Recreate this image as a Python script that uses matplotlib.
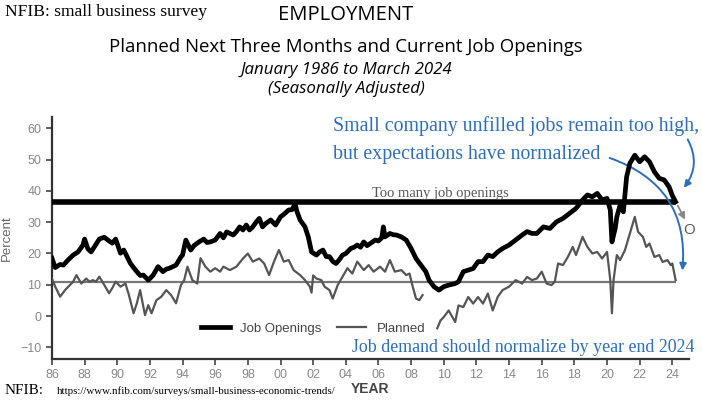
import numpy as np
import matplotlib
matplotlib.use("Agg")
from matplotlib import pyplot as plt

plt.rcParams['font.family'] = ['Liberation Sans', 'DejaVu Sans']

# Job openings (percent of firms with unfilled openings)
jo_year = [1986.0, 1986.2, 1986.5, 1986.7, 1987.0, 1987.3, 1987.6, 1987.9, 1988.0, 1988.2,
           1988.4, 1988.7, 1988.9, 1989.2, 1989.5, 1989.7, 1989.9, 1990.2, 1990.4, 1990.6,
           1990.8, 1991.0, 1991.2, 1991.4, 1991.6, 1991.9, 1992.0, 1992.2, 1992.5, 1992.8,
           1993.0, 1993.2, 1993.4, 1993.6, 1993.9, 1994.0, 1994.2, 1994.5, 1994.7, 1994.9,
           1995.1, 1995.3, 1995.5, 1995.7, 1996.0, 1996.3, 1996.5, 1996.7, 1997.1, 1997.3,
           1997.5, 1997.7, 1997.9, 1998.1, 1998.3, 1998.5, 1998.7, 1998.9, 1999.1, 1999.4,
           1999.7, 2000.0, 2000.2, 2000.5, 2000.7, 2000.9, 2001.0, 2001.2, 2001.5, 2001.7,
           2001.9, 2002.2, 2002.4, 2002.6, 2002.8, 2003.0, 2003.2, 2003.4, 2003.6, 2003.8,
           2004.0, 2004.3, 2004.5, 2004.7, 2004.9, 2005.1, 2005.3, 2005.5, 2005.8, 2006.0,
           2006.2, 2006.3, 2006.4, 2006.7, 2006.9, 2007.1, 2007.4, 2007.7, 2008.0, 2008.3,
           2008.6, 2008.9, 2009.1, 2009.4, 2009.7, 2010.0, 2010.3, 2010.7, 2010.9, 2011.2,
           2011.5, 2011.8, 2012.1, 2012.4, 2012.7, 2013.0, 2013.3, 2013.6, 2014.0, 2014.4,
           2014.8, 2015.1, 2015.4, 2015.7, 2016.1, 2016.5, 2016.9, 2017.3, 2017.7, 2018.1,
           2018.5, 2018.8, 2019.1, 2019.4, 2019.7, 2020.0, 2020.2, 2020.3, 2020.5, 2020.6,
           2020.8, 2021.0, 2021.2, 2021.4, 2021.7, 2022.0, 2022.3, 2022.6, 2022.9, 2023.2,
           2023.5, 2023.8, 2024.0, 2024.2]
jo_val = [18.5, 15.5, 16.5, 16.3, 18.0, 19.5, 20.5, 22.7, 24.6, 21.5,
          20.5, 23.0, 24.6, 25.2, 24.0, 23.3, 24.6, 20.1, 21.1, 19.0,
          16.9, 15.5, 14.2, 13.0, 13.1, 11.5, 12.0, 13.1, 15.8, 14.2,
          15.0, 15.3, 15.8, 16.3, 18.9, 19.5, 24.3, 21.1, 22.5, 23.3,
          24.0, 24.6, 23.5, 23.7, 24.3, 26.4, 25.0, 26.9, 25.9, 27.0,
          28.5, 27.5, 29.1, 27.5, 28.5, 30.0, 31.2, 28.5, 29.6, 30.7,
          29.1, 31.7, 32.5, 33.9, 34.0, 35.8, 33.5, 30.7, 28.5, 25.3,
          20.5, 19.5, 20.5, 21.1, 19.0, 19.0, 17.5, 16.8, 18.0, 19.5,
          20.0, 21.6, 22.0, 22.7, 22.0, 23.7, 22.5, 23.2, 24.3, 24.0,
          25.0, 28.5, 25.3, 26.4, 26.0, 25.9, 25.3, 24.3, 21.6, 18.4,
          16.3, 14.2, 11.5, 9.4, 8.3, 9.4, 9.9, 10.4, 11.0, 14.2,
          14.7, 15.2, 17.4, 17.4, 19.5, 19.0, 20.5, 21.6, 22.7, 24.3,
          25.9, 27.0, 26.4, 26.4, 28.5, 28.0, 30.1, 31.2, 32.8, 34.4,
          37.1, 38.7, 38.1, 39.2, 37.1, 37.6, 33.9, 23.7, 28.0, 31.7,
          35.5, 33.3, 44.5, 48.8, 51.4, 49.3, 50.9, 49.3, 46.1, 44.0,
          43.5, 41.3, 38.5, 36.5]

# Planned hiring next three months (gap in late 2008 - mid 2009)
pl_year = [1986.0, 1986.2, 1986.5, 1986.8, 1987.1, 1987.3, 1987.5, 1987.8, 1988.1, 1988.3,
           1988.5, 1988.7, 1988.9, 1989.2, 1989.5, 1989.7, 1989.9, 1990.2, 1990.5, 1990.7,
           1991.0, 1991.2, 1991.4, 1991.7, 1991.9, 1992.1, 1992.4, 1992.7, 1993.0, 1993.3,
           1993.6, 1993.9, 1994.1, 1994.3, 1994.6, 1994.9, 1995.1, 1995.4, 1995.7, 1996.0,
           1996.3, 1996.5, 1996.9, 1997.3, 1997.7, 1998.0, 1998.3, 1998.7, 1999.0, 1999.3,
           1999.6, 1999.9, 2000.2, 2000.5, 2000.8, 2001.2, 2001.5, 2001.8, 2001.9, 2002.0,
           2002.2, 2002.5, 2002.7, 2003.0, 2003.2, 2003.5, 2003.8, 2004.1, 2004.4, 2004.7,
           2005.1, 2005.4, 2005.7, 2006.1, 2006.4, 2006.7, 2007.0, 2007.4, 2007.7, 2007.9,
           2008.1, 2008.3, 2008.5, 2008.7, 2009.1, 2009.6, 2009.8, 2010.0, 2010.3, 2010.7,
           2010.9, 2011.2, 2011.5, 2011.8, 2012.1, 2012.4, 2012.7, 2013.0, 2013.3, 2013.6,
           2014.0, 2014.4, 2014.8, 2015.1, 2015.4, 2015.7, 2016.0, 2016.3, 2016.6, 2016.8,
           2017.0, 2017.3, 2017.6, 2017.9, 2018.1, 2018.5, 2018.8, 2019.1, 2019.4, 2019.7,
           2020.0, 2020.2, 2020.3, 2020.4, 2020.6, 2020.8, 2021.1, 2021.4, 2021.7, 2021.9,
           2022.2, 2022.4, 2022.6, 2022.9, 2023.2, 2023.4, 2023.7, 2023.9, 2024.0, 2024.2]
pl_val = [12.0, 9.4, 6.2, 8.3, 9.9, 11.0, 13.1, 10.4, 12.0, 11.0,
          11.5, 11.0, 12.6, 10.0, 7.3, 9.0, 11.0, 9.4, 10.4, 7.0,
          0.9, 4.1, 8.3, 0.3, 3.5, 0.9, 5.1, 6.2, 8.3, 6.7,
          4.1, 9.9, 11.5, 15.8, 11.5, 10.4, 18.5, 15.8, 14.2, 15.3,
          14.2, 15.8, 14.7, 15.8, 18.4, 20.0, 17.4, 18.4, 16.8, 13.1,
          17.4, 21.1, 17.4, 17.9, 14.7, 13.1, 11.5, 9.4, 7.5, 13.0,
          12.0, 11.5, 9.4, 8.3, 5.6, 9.9, 12.6, 15.3, 13.6, 17.4,
          14.7, 16.3, 14.2, 15.8, 14.2, 17.9, 14.2, 14.7, 13.1, 13.6,
          9.4, 5.6, 5.1, 6.7, np.nan, -3.9, -1.4, -0.3, 1.8, -1.9,
          3.4, 2.9, 6.1, 4.0, 6.1, 4.0, 7.2, 1.8, 6.1, 8.3,
          9.4, 11.5, 10.4, 12.5, 11.5, 12.0, 14.2, 10.4, 9.9, 11.0,
          16.8, 16.3, 18.9, 22.1, 19.5, 25.3, 22.1, 20.0, 20.5, 18.4,
          20.5, 11.5, 0.9, 11.5, 19.5, 17.9, 21.1, 26.4, 31.7, 26.9,
          25.3, 22.1, 23.2, 18.9, 19.5, 17.3, 17.9, 16.3, 16.8, 11.5]

too_high_level = 36.5
normal_level = 11.0
ref_end = 2024.2

x_ticks = list(range(1986, 2025, 2))
x_labels = ["%02d" % (y % 100) for y in x_ticks]
y_ticks = list(range(-10, 61, 10))

blue = "#2E6DB8"
serif = ["Liberation Serif", "DejaVu Serif"]
sans = ["Open Sans", "DejaVu Sans"]

fig = plt.figure(figsize=(7.02, 4.0), dpi=100)
ax = fig.add_axes([0.074, 0.1025, 0.907, 0.605])

ax.hlines(too_high_level, 1986, ref_end, color="black", lw=4, zorder=3)
ax.hlines(normal_level, 1986, ref_end, color="#777777", lw=1.6, zorder=2)
ax.plot(pl_year, pl_val, color="#555555", lw=1.6, label="Planned", zorder=4)
ax.plot(jo_year, jo_val, color="black", lw=3.4, label="Job Openings", zorder=5)

ax.set_xlim(1986, 2025)
ax.set_ylim(-13.7, 63.6)
ax.set_xticks(x_ticks)
ax.set_xticklabels(x_labels)
ax.set_yticks(y_ticks)
ax.tick_params(direction="out", length=4, width=1.2, color="#444444",
               labelcolor="#888888", labelsize=9)
for s in ["top", "right"]:
    ax.spines[s].set_visible(False)
for s in ["left", "bottom"]:
    ax.spines[s].set_linewidth(1.6)
    ax.spines[s].set_color("#333333")
ax.set_ylabel("Percent", color="#666666", fontsize=9.5)
ax.yaxis.set_label_coords(-0.062, 0.5)

h, l = ax.get_legend_handles_labels()
ax.legend([h[1], h[0]], [l[1], l[0]], ncol=2, frameon=False, fontsize=9.5,
          labelcolor="#444444", loc="center", bbox_to_anchor=(0.41, 0.124),
          handlelength=2.2, columnspacing=1.2)

# annotations
ax.text(2005.6, 39.3, "Too many job openings", family=serif, fontsize=10.5,
        color="#555555", va="center")
ax.annotate("", xy=(2024.6, 40.3), xytext=(2024.86, 57.2),
            arrowprops=dict(arrowstyle="-|>", color=blue, lw=1.4,
                            connectionstyle="arc3,rad=-0.35"), annotation_clip=False)
ax.annotate("", xy=(2024.6, 13.7), xytext=(2020.0, 50.8),
            arrowprops=dict(arrowstyle="-|>", color=blue, lw=1.4,
                            connectionstyle="arc3,rad=-0.4"), annotation_clip=False)
ax.annotate("", xy=(2024.86, 30.0), xytext=(2024.25, 36.1),
            arrowprops=dict(arrowstyle="-|>", color="#888888", lw=1.3),
            annotation_clip=False)
ax.text(2025.05, 27.5, "O", family=sans, fontsize=11, color="#555555",
        ha="center", va="center", clip_on=False)

fig.text(333 / 702, 1 - 126 / 400, "Small company unfilled jobs remain too high,",
         family=serif, fontsize=14.3, color=blue, va="center")
fig.text(333 / 702, 1 - 154 / 400, "but expectations have normalized",
         family=serif, fontsize=14.3, color=blue, va="center")
fig.text(352 / 702, 1 - 348 / 400, "Job demand should normalize by year end 2024",
         family=serif, fontsize=12.9, color=blue, va="center")

# titles
fig.text(5 / 702, 1 - 12 / 400, "NFIB: small business survey", family=serif,
         fontsize=12.6, va="center")
fig.text(346 / 702, 1 - 15 / 400, "EMPLOYMENT", family=sans, fontsize=14.6,
         ha="center", va="center")
fig.text(346 / 702, 1 - 47 / 400, "Planned Next Three Months and Current Job Openings",
         family=sans, fontsize=13.4, ha="center", va="center")
fig.text(346 / 702, 1 - 70 / 400, "January 1986 to March 2024", family=sans,
         style="italic", fontsize=12.2, ha="center", va="center")
fig.text(346 / 702, 1 - 89 / 400, "(Seasonally Adjusted)", family=sans,
         style="italic", fontsize=12.2, ha="center", va="center")

# footer
fig.text(5 / 702, 1 - 390 / 400, "NFIB:", family=serif, fontsize=11, va="center")
fig.text(57 / 702, 1 - 391 / 400, "https://www.nfib.com/surveys/small-business-economic-trends/",
         family=serif, fontsize=7.8, va="center")
fig.text(370 / 702, 1 - 389 / 400, "YEAR", fontsize=10, fontweight="bold",
         color="#444444", ha="center", va="center")

fig.savefig("out.png", dpi=100)
